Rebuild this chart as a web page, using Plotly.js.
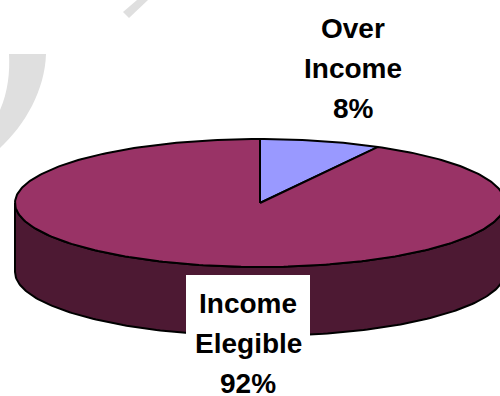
<!DOCTYPE html>
<html>
<head>
<meta charset="utf-8">
<script src="https://cdn.plot.ly/plotly-3.0.1.min.js"></script>
<style>html,body{margin:0;padding:0;background:#fff}#chart{width:500px;height:396px}</style>
</head>
<body>
<div id="chart"></div>
<script>
// Income eligibility split, drawn as a tilted pie with a raised rim.
const categories = ["Over Income", "Income Elegible"];
const shares = [8, 92];
const sliceColors = ["#9999FF", "#993366"];
const rimColor = "#4D1933";
const labelLines = [["Over", "Income", "8%"], ["Income", "Elegible", "92%"]];

const cx = 260, cy = 203, rx = 245, ry = 64, depth = 69;

// Point on the top ellipse for a fraction of the full turn, clockwise from 12 o'clock.
const rimPoint = f => [cx + rx * Math.sin(2 * Math.PI * f), cy - ry * Math.cos(2 * Math.PI * f)];

function arc(f0, f1, dy) {
  const xs = [], ys = [];
  const n = Math.max(2, Math.ceil(Math.abs(f1 - f0) * 360));
  for (let i = 0; i <= n; i++) {
    const p = rimPoint(f0 + (f1 - f0) * i / n);
    xs.push(p[0]);
    ys.push(p[1] + dy);
  }
  return [xs, ys];
}

const total = shares.reduce((a, b) => a + b, 0);
const edge = { color: "#000000", width: 2 };
const traces = [];

// Visible side wall: the front half of the ellipse, dropped by the depth.
const upper = arc(0.25, 0.75, 0);
const lower = arc(0.75, 0.25, depth);
traces.push({
  type: "scatter", mode: "lines", fill: "toself", fillcolor: rimColor, line: edge,
  x: upper[0].concat(lower[0], [upper[0][0]]),
  y: upper[1].concat(lower[1], [upper[1][0]]),
  hoverinfo: "skip", showlegend: false
});

// Top faces, one wedge per category.
let start = 0;
shares.forEach((v, i) => {
  const end = start + v / total;
  const a = arc(start, end, 0);
  traces.push({
    type: "scatter", mode: "lines", fill: "toself", fillcolor: sliceColors[i], line: edge,
    x: [cx].concat(a[0], [cx]),
    y: [cy].concat(a[1], [cy]),
    name: categories[i], hoverinfo: "name", showlegend: false
  });
  start = end;
});

// Each label line is placed separately to keep the wide line spacing.
const labelFont = { family: "Liberation Sans, Arial, sans-serif", size: 28, color: "#000000" };
const labelAnchors = [{ x: 353, y: 28.5 }, { x: 248, y: 303.5 }];
const lineGap = 40;
const annotations = [];
labelLines.forEach((lines, i) => {
  lines.forEach((t, j) => {
    annotations.push({
      x: labelAnchors[i].x, y: labelAnchors[i].y + j * lineGap, xref: "x", yref: "y",
      text: "<b>" + t + "</b>", showarrow: false, font: labelFont,
      xanchor: "center", yanchor: "middle"
    });
  });
});

const layout = {
  width: 500, height: 396,
  margin: { l: 0, r: 0, t: 0, b: 0 },
  paper_bgcolor: "#ffffff", plot_bgcolor: "#ffffff",
  xaxis: { range: [0, 500], visible: false, fixedrange: true },
  yaxis: { range: [396, 0], visible: false, fixedrange: true },
  showlegend: false,
  annotations: annotations,
  shapes: [
    // Pale backdrop strokes behind the pie.
    { type: "path", layer: "below", line: { width: 0 }, fillcolor: "#DFDFDF",
      path: "M9,54 L46,54 C45,90 25,125 0,148 L0,110 C8,92 10,72 9,54 Z" },
    { type: "path", layer: "below", line: { width: 0 }, fillcolor: "#DFDFDF",
      path: "M123,12 L129,18 L148,0 L137,0 Z" },
    // White panel behind the lower label.
    { type: "rect", layer: "above", line: { width: 0 }, fillcolor: "#ffffff",
      x0: 186, x1: 310, y0: 275, y1: 396 }
  ]
};

Plotly.newPlot("chart", traces, layout, { displayModeBar: false, staticPlot: true });
</script>
</body>
</html>
